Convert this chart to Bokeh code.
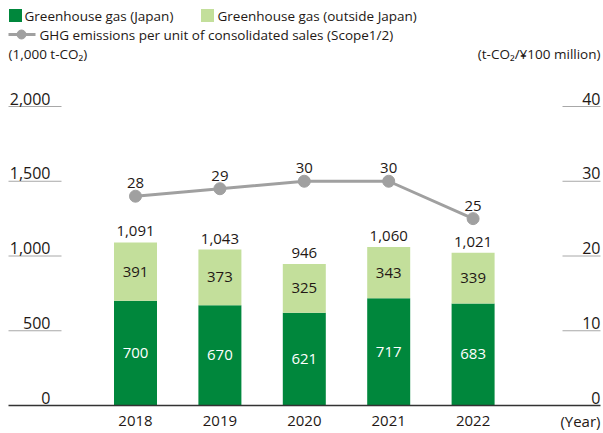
from bokeh.plotting import figure
from bokeh.models import Range1d, ColumnDataSource
from bokeh.core.properties import value
from bokeh.embed import file_html
from bokeh.resources import INLINE

years = ["2018", "2019", "2020", "2021", "2022"]
japan = [700, 670, 621, 717, 683]
outside = [391, 373, 325, 343, 339]
totals = [1091, 1043, 946, 1060, 1021]
intensity = [28, 29, 30, 30, 25]
left_ticks = [0, 500, 1000, 1500, 2000]
right_ticks = [0, 10, 20, 30, 40]

DARK = "#00873c"
LIGHT = "#c3df9b"
GRAY = "#a0a0a0"
TXT = "#231815"
FONT = "Open Sans"

W, H = 603, 433
OX, OY = 0, 0  # figure origin in the photographed page
X0 = 135.0; DX = 84.4
Y0 = 405.0; PPU = 299.0 / 2000.0
PPU_R = 299.0 / 40.0

def px2x(px):
    return (px - X0) / DX

def py2y(py):
    return (Y0 - py) / PPU

xr = Range1d(px2x(OX), px2x(OX + W))
yr = Range1d(py2y(OY + H), py2y(OY))

p = figure(width=W, height=H, x_range=xr, y_range=yr, output_backend="svg",
           toolbar_location=None, min_border=0, outline_line_color=None)
p.axis.visible = False
p.grid.visible = False
p.extra_y_ranges = {"r": Range1d((Y0 - (OY + H)) / PPU_R, (Y0 - OY) / PPU_R)}

xs = list(range(len(years)))
src = ColumnDataSource(dict(x=xs, japan=japan, outside=outside,
                            top=[j + o for j, o in zip(japan, outside)],
                            totals=[f"{t:,}" for t in totals],
                            jl=[str(v) for v in japan], ol=[str(v) for v in outside],
                            jm=[j / 2 for j in japan],
                            om=[j + o / 2 for j, o in zip(japan, outside)],
                            inten=intensity, il=[str(v) for v in intensity],
                            year=years))

bw = 43 / DX
p.vbar(x="x", bottom=0, top="japan", width=bw, color=DARK, line_color=None, source=src)
p.vbar(x="x", bottom="japan", top="top", width=bw, color=LIGHT, line_color=None, source=src)

fs = "15px"
p.text(x="x", y="jm", text="jl", source=src, text_color="white", text_font=value(FONT),
       text_font_size=fs, text_align="center", text_baseline="middle")
p.text(x="x", y="om", text="ol", source=src, text_color=TXT, text_font=value(FONT),
       text_font_size=fs, text_align="center", text_baseline="middle")
p.text(x="x", y="top", text="totals", source=src, text_color=TXT, text_font=value(FONT),
       text_font_size=fs, text_align="center", text_baseline="bottom", y_offset=-6)

# line
p.line(x="x", y="inten", source=src, y_range_name="r", line_color=GRAY, line_width=3)
p.scatter(x="x", y="inten", source=src, y_range_name="r", size=12, color=GRAY)
p.text(x="x", y="inten", text="il", source=src, y_range_name="r", text_color=TXT,
       text_font=value(FONT), text_font_size=fs, text_align="center",
       text_baseline="bottom", y_offset=-8)

# tick underlines and labels
lt = [f"{v:,}" for v in left_ticks]
p.segment(x0=[px2x(8)] * 4, x1=[px2x(61)] * 4, y0=left_ticks[1:], y1=left_ticks[1:],
          line_color="#a8a8a8", line_width=1)
p.text(x=[px2x(50)] * 5, y=left_ticks, text=lt, text_color=TXT, text_font=value(FONT),
       text_font_size="16px", text_align="right", text_baseline="bottom", y_offset=-2)
p.segment(x0=[px2x(562)] * 4, x1=[px2x(600)] * 4, y0=right_ticks[1:], y1=right_ticks[1:],
          y_range_name="r", line_color="#a8a8a8", line_width=1)
p.text(x=[px2x(600)] * 5, y=right_ticks, text=[str(v) for v in right_ticks], y_range_name="r",
       text_color=TXT, text_font=value(FONT), text_font_size="16px", text_align="right",
       text_baseline="bottom", y_offset=-2)
# baseline
p.segment(x0=[px2x(8)], x1=[px2x(600)], y0=[0], y1=[0], line_color="#333333", line_width=1.5)

# year labels
p.text(x="x", y=py2y(420), text="year", source=src, text_color=TXT, text_font=value(FONT),
       text_font_size=fs, text_align="center", text_baseline="middle")
p.text(x=[px2x(600)], y=[py2y(420)], text=["(Year)"], text_color=TXT, text_font=value(FONT),
       text_font_size=fs, text_align="right", text_baseline="middle")

# legend
LFS = "13.5px"
p.rect(x=[px2x(15), px2x(207)], y=[py2y(15)] * 2, width=13 / DX, height=13 / PPU,
       color=[DARK, LIGHT], line_color=None)
p.text(x=[px2x(24), px2x(217)], y=[py2y(15)] * 2,
       text=["Greenhouse gas (Japan)", "Greenhouse gas (outside Japan)"],
       text_color=TXT, text_font=value(FONT), text_font_size=LFS,
       text_baseline="middle")
p.segment(x0=[px2x(8)], x1=[px2x(35)], y0=[py2y(34)], y1=[py2y(34)], line_color=GRAY, line_width=3)
p.scatter(x=[px2x(21)], y=[py2y(34)], size=9, color=GRAY)
p.text(x=[px2x(39)], y=[py2y(34)], text=["GHG emissions per unit of consolidated sales (Scope1/2)"],
       text_color=TXT, text_font=value(FONT), text_font_size=LFS, text_baseline="middle")
p.text(x=[px2x(8)], y=[py2y(53)], text=["(1,000 t-CO₂)"], text_color=TXT,
       text_font=value(FONT), text_font_size=LFS, text_baseline="middle")
p.text(x=[px2x(600)], y=[py2y(53)], text=["(t-CO₂/¥100 million)"], text_color=TXT,
       text_font=value(FONT), text_font_size=LFS, text_baseline="middle", text_align="right")

open("out.html", "w").write(file_html(p, INLINE))
